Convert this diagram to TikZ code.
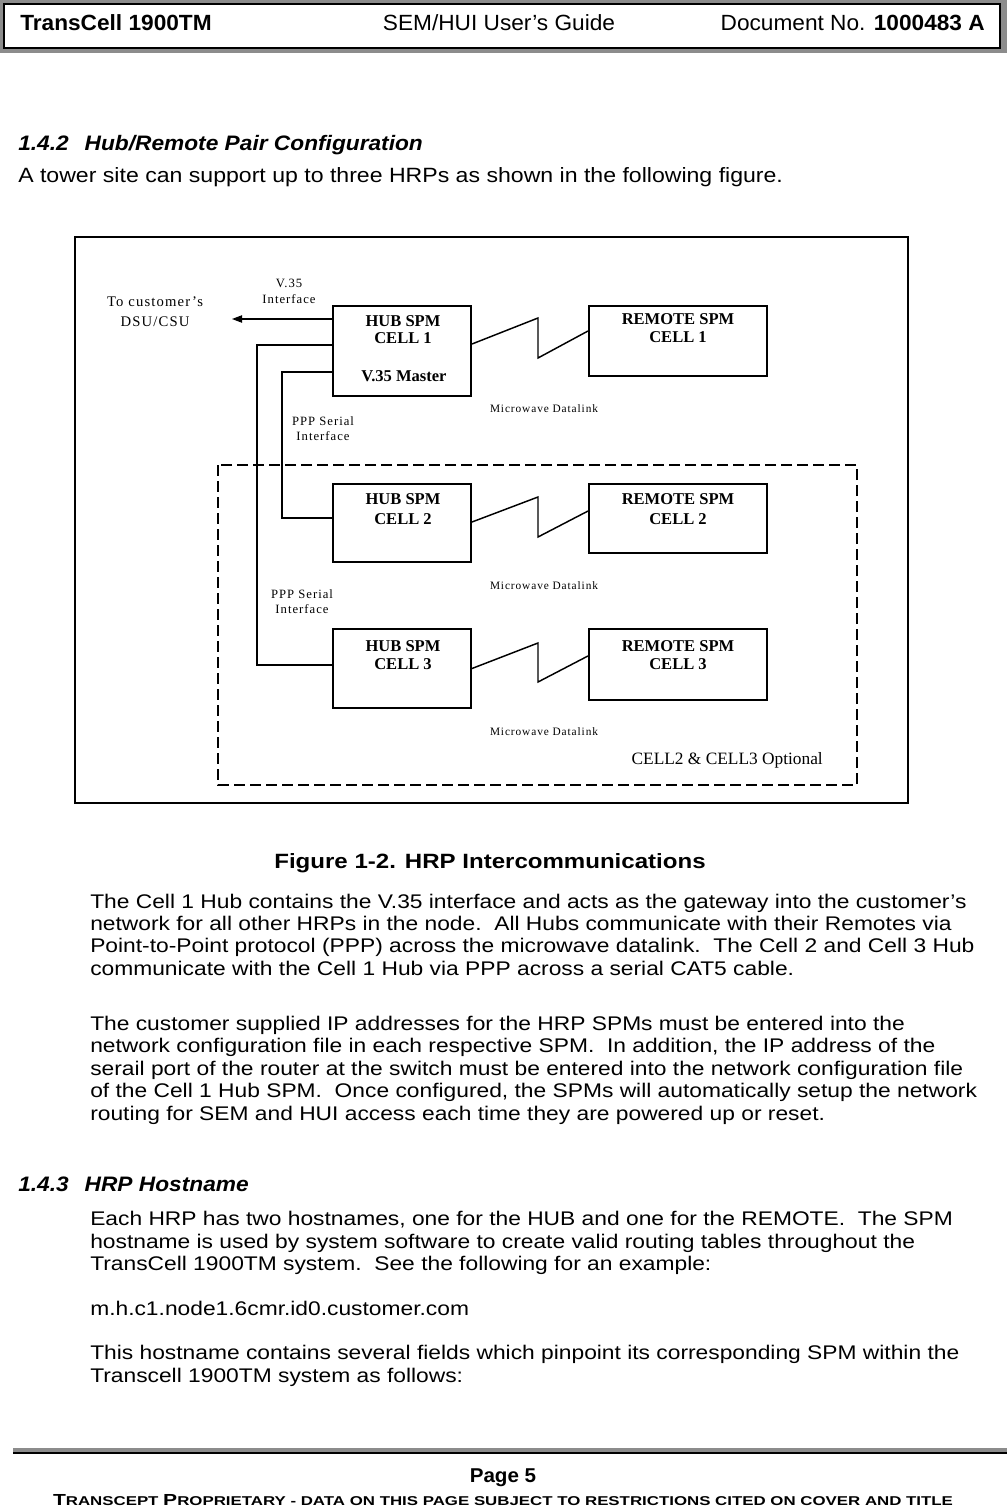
\documentclass[tikz,border=0pt]{standalone}
\usepackage{fontspec}
\usepackage{graphicx}
\setmainfont{Liberation Sans}
\newfontfamily\dserif{Liberation Serif}
\newfontfamily\dserifls{Liberation Serif}[LetterSpace=8]
\usetikzlibrary{arrows.meta}
\newcommand\fsz[1]{\fontsize{#1}{#1}\selectfont}
\newcommand\wide[1]{\scalebox{1.155}[1]{#1}}
\newsavebox\fitbox
\newcommand\fitw[2]{\sbox\fitbox{#2}\pgfmathsetmacro\fitfac{#1*0.75/\the\wd\fitbox}\scalebox{\fitfac}[1]{\usebox\fitbox}}
\begin{document}
\begin{tikzpicture}[x=0.75pt,y=-0.75pt,
  box/.style={draw, line width=1.5pt, inner sep=0pt},
  bl/.style={font=\dserif\bfseries\fsz{12.4}, inner sep=0pt, anchor=base},
  sl/.style={font=\dserifls\fsz{9.5}, inner sep=0pt, anchor=base},
  wire/.style={line width=1.2pt},
  zig/.style={line width=1.1pt},
  body/.style={font=\fsz{14.8}, inner sep=0pt, anchor=base west},
  head/.style={font=\bfseries\itshape\fsz{15.7}, inner sep=0pt, anchor=base west},
]
\useasboundingbox (0,0) rectangle (1007,1508);
\fill[white] (0,0) rectangle (1007,1508);

% ---------- header ----------
\fill[black!45] (0,0) rectangle (1007,53);
\draw[line width=1.5pt, fill=white] (4,4) rectangle (1000,48);
\node[font=\bfseries\fsz{16.5}, inner sep=0pt, anchor=base west] (ht1) at (20,31) {\scalebox{1.03}[1]{TransCell 1900TM}};
\node[font=\fsz{16.5}, inner sep=0pt, anchor=base] (ht2) at (499,31) {\scalebox{1.03}[1]{SEM/HUI User’s Guide}};
\node[font=\fsz{16.5}, inner sep=0pt, anchor=base east] (ht3) at (985,31) {\scalebox{1.03}[1]{Document No. \textbf{1000483 A}}};

% ---------- section 1.4.2 ----------
\node[head] (s142) at (18,151) {\scalebox{1.085}[1]{1.4.2\hspace{11pt}Hub/Remote Pair Configuration}};
\node[body, font=\fsz{15.5}] (intro) at (18,183) {\scalebox{1.117}[1]{A tower site can support up to three HRPs as shown in the following figure.}};

% ---------- diagram ----------
\draw[line width=1.5pt] (75,237) rectangle (908,803);
\draw[line width=1.4pt, dash pattern=on 8pt off 4pt] (218,465) rectangle (857,785);

\node[box, minimum width=103.5pt, minimum height=67.5pt] (h1) at (402,351) {};
\node[box, minimum width=133.5pt, minimum height=52.5pt] (r1) at (678,341) {};
\node[box, minimum width=103.5pt, minimum height=58.5pt] (h2) at (402,523) {};
\node[box, minimum width=133.5pt, minimum height=51.75pt] (r2) at (678,518.5) {};
\node[box, minimum width=103.5pt, minimum height=59.25pt] (h3) at (402,668.5) {};
\node[box, minimum width=133.5pt, minimum height=53.25pt] (r3) at (678,664.5) {};

\node[bl] (h1a) at (403,327) {HUB SPM};
\node[bl] (h1b) at (403,344) {CELL 1};
\node[bl] (h1c) at (404,382) {V.35 Master};
\node[bl] (r1a) at (678,325) {REMOTE SPM};
\node[bl] (r1b) at (678,343) {CELL 1};
\node[bl] (h2a) at (403,504) {HUB SPM};
\node[bl] (h2b) at (403,524) {CELL 2};
\node[bl] (r2a) at (678,504) {REMOTE SPM};
\node[bl] (r2b) at (678,524) {CELL 2};
\node[bl] (h3a) at (403,651) {HUB SPM};
\node[bl] (h3b) at (403,669) {CELL 3};
\node[bl] (r3a) at (678,651) {REMOTE SPM};
\node[bl] (r3b) at (678,669) {CELL 3};

\node[sl] (v1) at (289,288) {V.35};
\node[sl] (v2) at (289,304) {Interface};
\node[sl, font=\dserifls\fsz{11}] (c1) at (155,307) {To customer’s};
\node[sl, font=\dserifls\fsz{11}] (c2) at (155,327) {DSU/CSU};
\node[sl] (p1a) at (323,425) {PPP Serial};
\node[sl] (p1b) at (323,440) {Interface};
\node[sl] (p2a) at (302,598) {PPP Serial};
\node[sl] (p2b) at (302,613) {Interface};
\node[sl, font=\dserifls\fsz{8.5}] (m1) at (544,412) {Microwave Datalink};
\node[sl, font=\dserifls\fsz{8.5}] (m2) at (544,589) {Microwave Datalink};
\node[sl, font=\dserifls\fsz{8.5}] (m3) at (544,735) {Microwave Datalink};
\node[sl, font=\dserif\fsz{13}, anchor=base east] (opt) at (823,764) {CELL2 \& CELL3 Optional};

\coordinate (dsu) at (232,319);
\draw[line width=0.8pt, -{Triangle[length=7.5pt,width=5.5pt]}] ([yshift=24pt]h1.west) -- (dsu);
\draw[wire] ([yshift=4.5pt]h1.west) -| (257,665) -- (h3.west |- 0,665);
\draw[wire] ([yshift=-15.75pt]h1.west) -| (282,518) -- (h2.west |- 0,518);

\draw[zig] ([yshift=5.25pt]h1.east) -- (538,318) -- (538,358) -- ([yshift=7.5pt]r1.west);
\draw[zig] ([yshift=0.75pt]h2.east) -- (538,497) -- (538,537) -- ([yshift=5.6pt]r2.west);
\draw[zig] (h3.east) -- (538,643) -- (538,682) -- ([yshift=6.4pt]r3.west);

% ---------- caption and text ----------
\node[font=\bfseries\fsz{15.5}, inner sep=0pt, anchor=base] (cap) at (490,868) {\scalebox{1.164}[1]{Figure 1-2. HRP Intercommunications}};

\node[body] (a1) at (90,908) {\wide{The Cell 1 Hub contains the V.35 interface and acts as the gateway into the customer’s}};
\node[body] (a2) at (90,930) {\wide{network for all other HRPs in the node.\ \ All Hubs communicate with their Remotes via}};
\node[body] (a3) at (90,952) {\wide{Point-to-Point protocol (PPP) across the microwave datalink.\ \ The Cell 2 and Cell 3 Hub}};
\node[body] (a4) at (90,975) {\wide{communicate with the Cell 1 Hub via PPP across a serial CAT5 cable.}};

\node[body] (b1) at (90,1030) {\wide{The customer supplied IP addresses for the HRP SPMs must be entered into the}};
\node[body] (b2) at (90,1052) {\wide{network configuration file in each respective SPM.\ \ In addition, the IP address of the}};
\node[body] (b3) at (90,1075) {\wide{serail port of the router at the switch must be entered into the network configuration file}};
\node[body] (b4) at (90,1097) {\wide{of the Cell 1 Hub SPM.\ \ Once configured, the SPMs will automatically setup the network}};
\node[body] (b5) at (90,1120) {\wide{routing for SEM and HUI access each time they are powered up or reset.}};

\node[head] (s143) at (18,1191) {\scalebox{1.085}[1]{1.4.3\hspace{11pt}HRP Hostname}};

\node[body] (c1l) at (90,1225) {\wide{Each HRP has two hostnames, one for the HUB and one for the REMOTE.\ \ The SPM}};
\node[body] (c2l) at (90,1248) {\wide{hostname is used by system software to create valid routing tables throughout the}};
\node[body] (c3l) at (90,1270) {\wide{TransCell 1900TM system.\ \ See the following for an example:}};
\node[body] (c4l) at (90,1315) {\wide{m.h.c1.node1.6cmr.id0.customer.com}};
\node[body] (c5l) at (90,1359) {\wide{This hostname contains several fields which pinpoint its corresponding SPM within the}};
\node[body] (c6l) at (90,1382) {\wide{Transcell 1900TM system as follows:}};

% ---------- footer ----------
\fill[black!45] (13,1448) rectangle (1007,1452);
\fill[black] (13,1452) rectangle (1007,1454);
\node[font=\bfseries\fsz{15}, inner sep=0pt, anchor=base] (pg) at (503,1482) {\scalebox{1.03}[1]{Page 5}};
\node[font=\bfseries, inner sep=0pt, anchor=base] (prop) at (503,1505)
  {\fitw{900}{\fsz{12}T\fsz{9.6}RANSCEPT \fsz{12}P\fsz{9.6}ROPRIETARY - DATA ON THIS PAGE SUBJECT TO RESTRICTIONS CITED ON COVER AND TITLE}};
\end{tikzpicture}
\end{document}
